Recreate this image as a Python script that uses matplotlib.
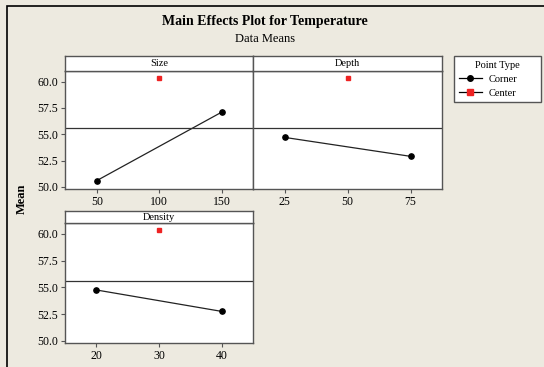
import matplotlib.pyplot as plt
from matplotlib.lines import Line2D
from matplotlib.patches import Rectangle

# factor levels and mean response
factors = ['Size', 'Depth', 'Density']
corner_levels = [[50, 150], [25, 75], [20, 40]]
corner_means = [[50.6, 57.1], [54.7, 52.9], [54.75, 52.75]]
center_levels = [100, 50, 30]
center_mean = 60.35
grand_mean = 55.6
x_ticks = [[50, 100, 150], [25, 50, 75], [20, 30, 40]]
x_limits = [(24.5, 175), (12.5, 87.5), (15, 45)]

plt.rcParams['font.family'] = ['Liberation Serif', 'DejaVu Serif']
bg = '#EDEAE0'
edge = '#555555'

W, H = 544, 367
fig = plt.figure(figsize=(W / 100, H / 100), dpi=100, facecolor=bg)

# outer frame
fig.patches.append(Rectangle((7 / W, -0.1), 1.2, (H - 6) / H + 0.1, transform=fig.transFigure,
                             fill=False, edgecolor='black', linewidth=1.2))

fig.text(265 / W, 1 - 22 / H, 'Main Effects Plot for Temperature', ha='center', va='center',
         fontsize=10, fontweight='bold')
fig.text(265 / W, 1 - 39 / H, 'Data Means', ha='center', va='center', fontsize=9)
fig.text(22 / W, 1 - 199 / H, 'Mean', ha='center', va='center', rotation=90,
         fontsize=9, fontweight='bold')


def px_box(left, top, right, bottom):
    return [left / W, 1 - bottom / H, (right - left) / W, (bottom - top) / H]


panels = [(65, 71, 253, 189), (253, 71, 442, 189), (65, 223, 253, 343)]
strip_h = [15, 15, 12]

for i, (l, t, r, b) in enumerate(panels):
    ax = fig.add_axes(px_box(l, t, r, b))
    ax.set_facecolor('white')
    ax.plot(corner_levels[i], corner_means[i], color='#222222', linewidth=0.9,
            marker='o', markersize=3.8, markerfacecolor='black', markeredgecolor='black')
    ax.plot([center_levels[i]], [center_mean], linestyle='none', marker='s', markersize=3.3,
            color='#EE2222')
    ax.axhline(grand_mean, color='#333333', linewidth=0.9)
    ax.set_xlim(*x_limits[i])
    ax.set_ylim(49.8, 61.0)
    ax.set_xticks(x_ticks[i])
    ax.set_yticks([50.0, 52.5, 55.0, 57.5, 60.0])
    ax.yaxis.set_major_formatter('{x:.1f}')
    ax.tick_params(length=3, width=0.8, color=edge, labelsize=8.5, pad=2)
    if i == 1:
        ax.tick_params(axis='y', left=False, labelleft=False)
    for s in ax.spines.values():
        s.set_color(edge)
        s.set_linewidth(1.0)

    sax = fig.add_axes(px_box(l, t - strip_h[i], r, t))
    sax.set_facecolor('white')
    sax.set_xticks([])
    sax.set_yticks([])
    for s in sax.spines.values():
        s.set_color(edge)
        s.set_linewidth(1.0)
    sax.text(0.5, 0.5, factors[i], ha='center', va='center', fontsize=7.5,
             transform=sax.transAxes)

handles = [
    Line2D([], [], color='black', linewidth=0.9, marker='o', markersize=4,
           markerfacecolor='black', markeredgecolor='black'),
    Line2D([], [], color='black', linewidth=0.9, marker='s', markersize=5,
           markerfacecolor='#EE2222', markeredgecolor='#EE2222'),
]
leg = fig.legend(handles, ['Corner', 'Center'], title='Point Type',
                 loc='upper left', bbox_to_anchor=(454 / W, 1 - 102 / H, 87 / W, 46 / H),
                 mode='expand', fontsize=7.5, title_fontsize=7.5, fancybox=False,
                 framealpha=1, edgecolor=edge, handlelength=2.2, handletextpad=0.7,
                 borderpad=0.45, labelspacing=0.45, borderaxespad=0)
leg.get_frame().set_linewidth(1.0)

fig.savefig('out.png', dpi=100, facecolor=bg)
